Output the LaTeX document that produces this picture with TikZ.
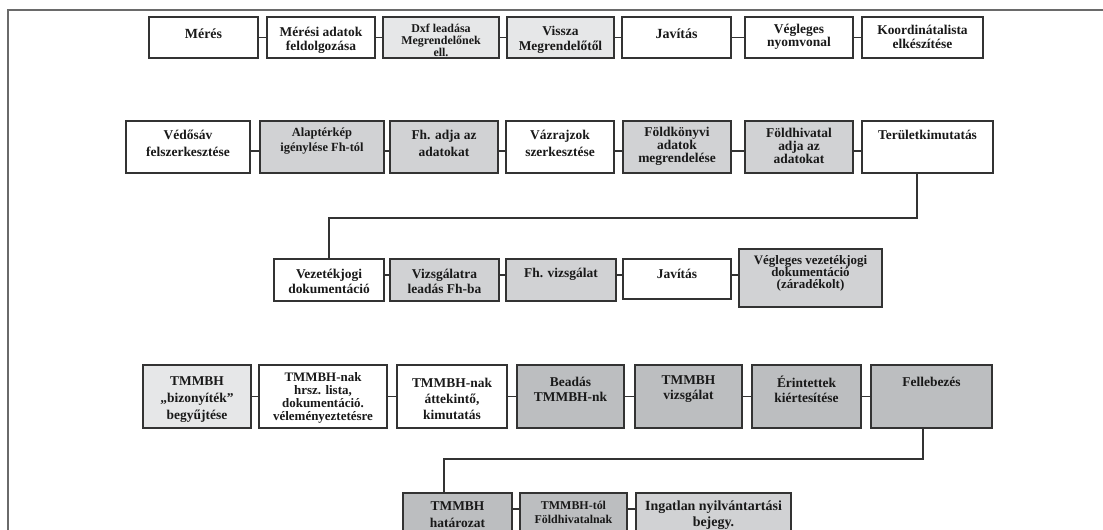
\documentclass[tikz,border=0pt]{standalone}
\usepackage{fontspec}
\setmainfont{Liberation Serif}
\definecolor{lt}{HTML}{E6E7E8}
\definecolor{md}{HTML}{D1D2D4}
\definecolor{dk}{HTML}{BCBEC0}
\definecolor{ln}{HTML}{333333}
\definecolor{fr}{HTML}{6A6A6A}
\newcommand\myfs[2]{\bfseries\fontsize{#1}{#2}\selectfont}
\tikzset{
 boxst/.style={draw=ln, line width=1.2bp, inner sep=0pt, outer sep=0pt, rectangle},
 txt/.style={align=center, font=\myfs{13.5}{15}, inner sep=0pt, text=black!90},
 conn/.style={draw=ln, line width=1.2bp},
 frame/.style={draw=fr, line width=1.6bp},
}
\newcommand\bx[9]{%
 \node[boxst, fill=#6, minimum width={(#4-#2)*1bp}, minimum height={(#5-#3)*1bp}] (#1) at ({(#2+#4)/2},{(#3+#5)/2}) {};
 \node[txt,#9] (#1t) at ({(#2+#4)/2},#7) {#8};}
\begin{document}
\begin{tikzpicture}[x=1bp,y=-1bp]
\useasboundingbox (0,0) rectangle (1103,530);
\clip (0,0) rectangle (1103,530);
\fill[white] (0,0) rectangle (1103,530);
\coordinate (fa) at (1103,10);
\coordinate (fb) at (8,10);
\coordinate (fc) at (8,540);
\draw[frame] (fa) -- (fb) -- (fc);
% row 1
\bx{a1}{149}{17}{258}{58}{white}{34}{Mérés}{font=\myfs{14}{15}}
\bx{a2}{267}{17}{375}{58}{white}{40}{Mérési adatok\\feldolgozása}{font=\myfs{13.5}{14}}
\bx{a3}{383}{17}{499}{58}{lt}{40}{Dxf leadása\\Megrendelőnek\\ell.}{font=\myfs{12}{12}}
\bx{a4}{507}{17}{614}{58}{lt}{40}{Vissza\\Megrendelőtől}{font=\myfs{13.5}{15}}
\bx{a5}{622}{17}{731}{58}{white}{34}{Javítás}{font=\myfs{14}{15}}
\bx{a6}{745}{17}{853}{58}{white}{37}{Végleges\\nyomvonal}{font=\myfs{13.5}{13.5}}
\bx{a7}{862}{17}{983}{58}{white}{37}{Koordinátalista\\elkészítése}{font=\myfs{13.5}{13.5}}
% row 2
\bx{b1}{126}{121}{250}{173}{white}{143.5}{Védősáv\\felszerkesztése}{font=\myfs{13.5}{17}}
\bx{b2}{260}{121}{384}{173}{md}{141.5}{Alaptérkép\\igénylése Fh-tól}{font=\myfs{12.5}{15}}
\bx{b3}{390}{121}{498}{173}{md}{143.5}{Fh. adja az\\adatokat}{font=\myfs{13.5}{17}}
\bx{b4}{506}{121}{614}{173}{white}{143.5}{Vázrajzok\\szerkesztése}{font=\myfs{13.5}{17}}
\bx{b5}{623}{121}{731}{173}{md}{146}{Földkönyvi\\adatok\\megrendelése}{font=\myfs{13.5}{13}}
\bx{b6}{745}{121}{853}{173}{md}{146}{Földhivatal\\adja az\\adatokat}{font=\myfs{13.5}{13}}
\bx{b7}{862}{121}{993}{173}{white}{135}{Területkimutatás}{font=\myfs{13.5}{15}}
% row 3
\bx{c1}{274}{259}{384}{301}{white}{281.5}{Vezetékjogi\\dokumentáció}{font=\myfs{13.5}{15}}
\bx{c2}{390}{259}{499}{301}{md}{281.5}{Vizsgálatra\\leadás Fh-ba}{font=\myfs{13.5}{15}}
\bx{c3}{506}{259}{616}{301}{md}{274}{Fh. vizsgálat}{font=\myfs{13.5}{15}}
\bx{c4}{623}{259}{731}{299}{white}{274}{Javítás}{font=\myfs{13.5}{15}}
\bx{c5}{739}{249}{882}{307}{md}{273.5}{Végleges vezetékjogi\\dokumentáció\\(záradékolt)}{font=\myfs{13}{12}}
% row 4
\bx{d1}{143}{365}{251}{428}{lt}{400}{TMMBH\\„bizonyíték”\\begyűjtése}{font=\myfs{13.5}{17}}
\bx{d2}{259}{365}{387}{428}{white}{397.5}{TMMBH-nak\\hrsz. lista,\\dokumentáció.\\véleményeztetésre}{font=\myfs{13}{13}}
\bx{d3}{397}{365}{507}{428}{white}{399}{TMMBH-nak\\áttekintő,\\kimutatás}{font=\myfs{13.5}{16}}
\bx{d4}{517}{365}{624}{428}{dk}{389.5}{Beadás\\TMMBH-nk}{font=\myfs{13.5}{15}}
\bx{d5}{635}{365}{742}{428}{dk}{389.5}{TMMBH\\vizsgálat}{font=\myfs{13.5}{15}}
\bx{d6}{752}{365}{861}{428}{dk}{389.5}{Érintettek\\kiértesítése}{font=\myfs{13.5}{15}}
\bx{d7}{871}{365}{992}{428}{dk}{382}{Fellebezés}{font=\myfs{13.5}{15}}
% row 5
\bx{e1}{403}{493}{512}{545}{dk}{514.5}{TMMBH\\határozat}{font=\myfs{13.5}{17}}
\bx{e2}{520}{493}{627}{545}{dk}{512}{TMMBH-tól\\Földhivatalnak}{font=\myfs{12}{14}}
\bx{e3}{636}{493}{791}{545}{md}{515}{Ingatlan nyilvántartási\\bejegy.}{font=\myfs{14}{16}}
% connector levels
\coordinate (r1) at (0,37.5);
\coordinate (r2) at (0,151);
\coordinate (r3) at (0,275);
\coordinate (r4) at (0,396.5);
\coordinate (r5) at (0,509);
\foreach \p/\q in {a1/a2,a2/a3,a3/a4,a4/a5,a5/a6,a6/a7}
  \draw[conn] (\p.east |- r1) -- (\q.west |- r1);
\foreach \p/\q in {b1/b2,b2/b3,b3/b4,b4/b5,b5/b6,b6/b7}
  \draw[conn] (\p.east |- r2) -- (\q.west |- r2);
\foreach \p/\q in {c1/c2,c2/c3,c3/c4,c4/c5}
  \draw[conn] (\p.east |- r3) -- (\q.west |- r3);
\foreach \p/\q in {d1/d2,d2/d3,d3/d4,d4/d5,d5/d6,d6/d7}
  \draw[conn] (\p.east |- r4) -- (\q.west |- r4);
\foreach \p/\q in {e1/e2,e2/e3}
  \draw[conn] (\p.east |- r5) -- (\q.west |- r5);
% row links
\coordinate (k1) at (917,218);
\draw[conn] (b7.south -| k1) -- (k1) -| (c1.north);
\coordinate (k2) at (923,459);
\coordinate (k3) at (444,459);
\draw[conn] (d7.south -| k2) -- (k2) -- (k3) -- (k3 |- e1.north);
\end{tikzpicture}
\end{document}
